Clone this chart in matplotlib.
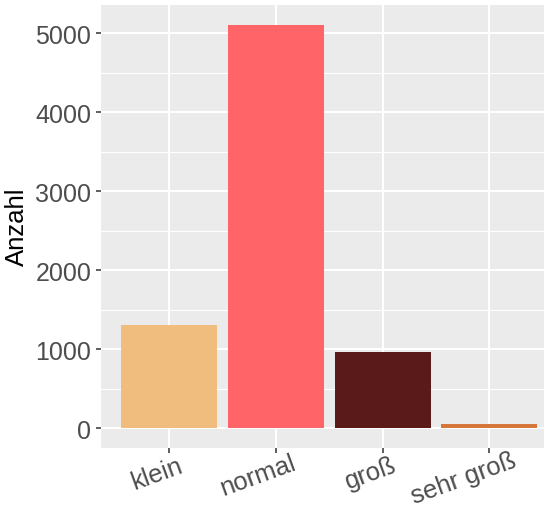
import matplotlib
matplotlib.use("Agg")
import matplotlib.pyplot as plt
from matplotlib.textpath import TextToPath
from matplotlib.font_manager import FontProperties
import numpy as np

# Größenklassen und Häufigkeiten
kategorien = ["klein", "normal", "groß", "sehr groß"]
anzahl = [1300, 5100, 960, 50]
farben = ["#F0BD7F", "#FF6468", "#5B1A1A", "#D5763A"]
y_ticks = [0, 1000, 2000, 3000, 4000, 5000]

plt.rcParams["font.family"] = ["Liberation Sans", "DejaVu Sans"]

W, H = 544, 510
fig = plt.figure(figsize=(W / 100, H / 100), dpi=100)
ax = fig.add_axes([101 / W, (H - 449.3) / H, (543.7 - 101) / W, (449.3 - 6) / H])

x = np.arange(len(kategorien))
ax.bar(x, anzahl, width=0.9, color=farben, zorder=3)

# ggplot-artiger Hintergrund
ax.set_facecolor("#EBEBEB")
for s in ax.spines.values():
    s.set_visible(False)
ax.set_xlim(-0.64, 3.51)
top = max(anzahl) * 1.05
ax.set_ylim(-max(anzahl) * 0.05, top)

ax.set_yticks(y_ticks)
ax.set_yticklabels([str(v) for v in y_ticks])
ax.set_yticks([v + 500 for v in y_ticks[:-1]], minor=True)
ax.set_xticks(x)
ax.set_xticklabels([""] * len(kategorien))

ax.grid(True, which="major", color="white", linewidth=1.5, zorder=0)
ax.grid(True, which="minor", axis="y", color="white", linewidth=0.8, zorder=0)
ax.set_axisbelow(True)

ax.tick_params(axis="both", which="major", length=3.6, width=1.1, color="#333333",
               labelsize=18, labelcolor="#4D4D4D", pad=3.5)
ax.tick_params(axis="both", which="minor", length=0)

# schräge x-Beschriftung, Ankerpunkt bei 75 % der Textbreite
fsize = 18.5
prop = FontProperties(family="Liberation Sans", size=fsize)
t2p = TextToPath()
ang = np.deg2rad(20)
for xi, lab in zip(x, kategorien):
    w, _, _ = t2p.get_text_width_height_descent(lab, prop, ismath=False)
    dx = -0.25 * w * np.cos(ang)
    dy = -0.25 * w * np.sin(ang)
    ax.annotate(lab, xy=(xi, 0), xycoords=("data", "axes fraction"),
                xytext=(dx, -14.6 + dy), textcoords="offset points",
                rotation=20, rotation_mode="anchor", ha="center", va="center",
                fontsize=fsize, color="#4D4D4D")

fig.text(16.5 / W, 1 - 226.7 / H, "Anzahl", rotation=90, ha="center", va="center",
         fontsize=18.5, color="black")

fig.savefig("out.png", dpi=100)
